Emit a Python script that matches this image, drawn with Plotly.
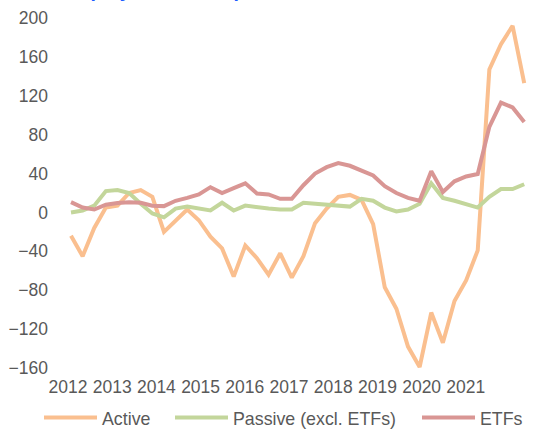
import plotly.graph_objects as go

# Quarterly net flows (2012Q1 .. 2021Q4)
quarters = list(range(40))
active = [-24, -45, -16, 5, 7, 20, 23, 16, -20, -8,
          3, -8, -25, -37, -66, -34, -47, -64, -42, -67,
          -45, -11, 4, 16, 18, 13, -12, -77, -99, -138,
          -159, -103, -134, -91, -70, -39, 147, 173, 192, 133]
passive = [0, 2, 7, 22, 23, 20, 9, -1, -5, 4,
           6, 4, 2, 10, 2, 7, 5, 4, 3, 3,
           10, 9, 8, 6, 6, 14, 12, 5, 1, 3,
           9, 30, 15, 12, 9, 5, 16, 24, 24, 29]
etfs = [10.6, 5, 3, 8, 9.6, 10.6, 10, 7, 6.5, 12,
        15, 18.5, 26, 20, 25, 30, 19.5, 18.5, 14, 14,
        28, 40, 46.6, 50.7, 48, 42.5, 38, 27, 20, 15,
        12, 42.5, 21, 32, 37, 39.5, 88, 113, 108, 93]
year_labels = ["2012", "2013", "2014", "2015", "2016",
               "2017", "2018", "2019", "2020", "2021"]
y_ticks = [-160, -120, -80, -40, 0, 40, 80, 120, 160, 200]

series = [("Active", active, "#FABF8F", "legend"),
          ("Passive (excl. ETFs)", passive, "#C3D69B", "legend2"),
          ("ETFs", etfs, "#D99694", "legend3")]

fig = go.Figure()
for name, vals, col, leg in series:
    fig.add_trace(go.Scatter(x=quarters, y=vals, mode="lines", name=name,
                             legend=leg, line=dict(color=col, width=4)))

tickvals = [-0.26 + 3.804 * k for k in range(len(year_labels))]
PW = 547 - 50 - 10
PH = 430 - 18 - 62


def legend_at(px):
    return dict(orientation="h", x=(px - 8 - 50) / PW, xanchor="left",
                y=-(418 - 18 - PH) / PH, yanchor="middle", bgcolor="rgba(0,0,0,0)",
                font=dict(size=17.8, color="#595959"), itemwidth=53)


fig.update_layout(
    width=547, height=430,
    margin=dict(l=50, r=10, t=18, b=62, autoexpand=False),
    paper_bgcolor="white", plot_bgcolor="white",
    font=dict(family="Liberation Sans, Arial, sans-serif", size=17.5, color="#595959"),
    showlegend=True,
    legend=legend_at(47),
    legend2=legend_at(178),
    legend3=legend_at(425),
    xaxis=dict(range=[-1.807, 40.1], tickmode="array", tickvals=tickvals,
               ticktext=year_labels, showgrid=False, zeroline=False, showline=False,
               ticks="", ticklabelstandoff=6, tickangle=0, automargin=False),
    yaxis=dict(range=[-160, 200], tickmode="array", tickvals=y_ticks,
               showgrid=False, zeroline=False, showline=False, ticks="",
               ticklabelstandoff=1, automargin=False),
    annotations=[dict(text="<b>Net deployment of all products</b>", xref="paper", yref="paper",
                      x=(29 - 50) / PW, y=1 + 15 / PH, xanchor="left", yanchor="bottom",
                      showarrow=False, font=dict(size=19.5, color="#1A5CFF",
                                                 family="Liberation Sans, Arial, sans-serif"))],
)

fig.write_html("out.html", config={"displayModeBar": False},
               post_script="document.body.style.margin='0';document.body.style.overflow='hidden';")
